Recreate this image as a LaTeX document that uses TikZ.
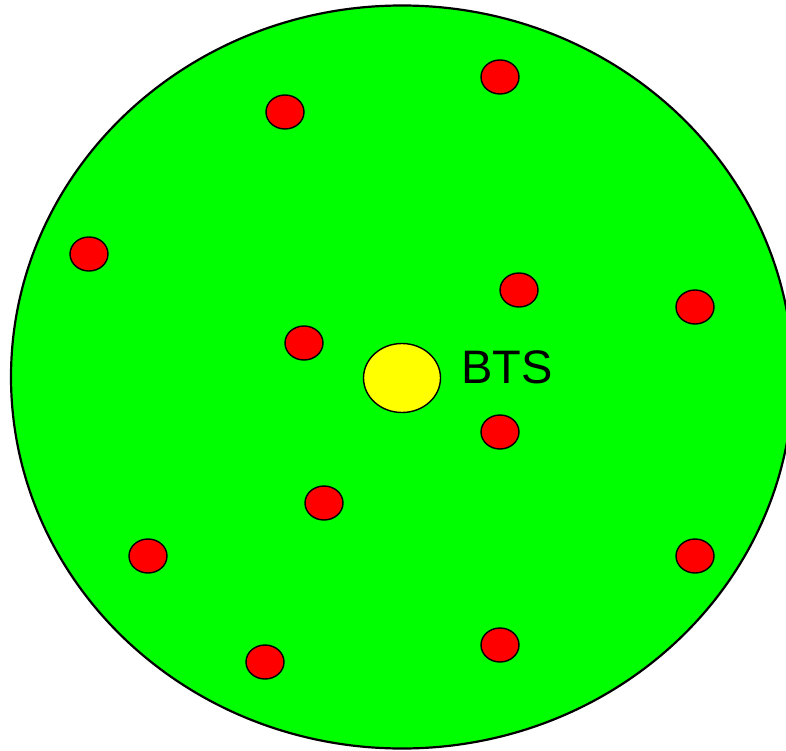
\documentclass[tikz,border=0pt]{standalone}
\usepackage{fontspec}
\setmainfont{Liberation Sans}
\usetikzlibrary{shapes.geometric}
\definecolor{cellgreen}{RGB}{0,255,0}
\definecolor{msred}{RGB}{255,0,0}
\definecolor{btsyellow}{RGB}{255,255,0}
\begin{document}
\begin{tikzpicture}[x=1pt,y=-1pt,
  ms/.style={ellipse,draw=black,line width=1.4pt,fill=msred,minimum width=38pt,minimum height=34pt,inner sep=0pt},
  bts/.style={ellipse,draw=black,line width=1.4pt,fill=btsyellow,minimum width=77pt,minimum height=69pt,inner sep=0pt},
  lbl/.style={font=\fontsize{47}{47}\selectfont,inner sep=0pt}]
\useasboundingbox (0,0) rectangle (786,751);
\clip (0,0) rectangle (786,751);
\node[ellipse,draw=black,line width=2.2pt,fill=cellgreen,minimum width=782pt,minimum height=743pt,inner sep=0pt] (cell) at (402,377) {};
\node[bts] (bts) at (402,378) {};
\node[lbl,anchor=west] (btslabel) at (461,367) {BTS};
\node[ms] (m1) at (285,112) {};
\node[ms] (m2) at (500,77) {};
\node[ms] (m3) at (89,254) {};
\node[ms] (m4) at (519,290) {};
\node[ms] (m5) at (695,307) {};
\node[ms] (m6) at (304,343) {};
\node[ms] (m7) at (500,432) {};
\node[ms] (m8) at (324,503) {};
\node[ms] (m9) at (148,556) {};
\node[ms] (m10) at (695,556) {};
\node[ms] (m11) at (265,662) {};
\node[ms] (m12) at (500,645) {};
\end{tikzpicture}
\end{document}
